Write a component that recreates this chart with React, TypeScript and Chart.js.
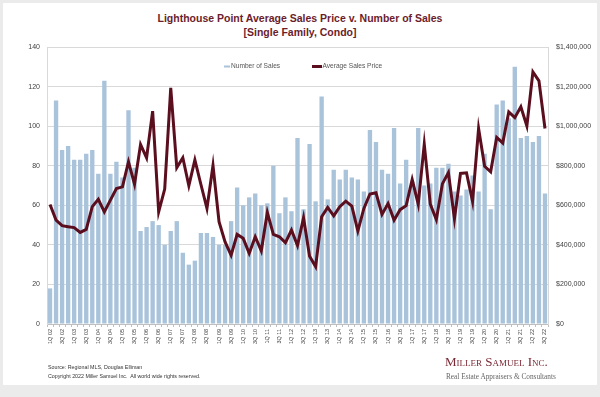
import React, { useEffect, useRef } from 'react';
import { Chart, registerables } from 'chart.js';

Chart.register(...registerables);

const titleLines = ['Lighthouse Point Average Sales Price v. Number of Sales', '[Single Family, Condo]'];
const seriesNames = ['Number of Sales', 'Average Sales Price'];
const sourceLines = ['Source: Regional MLS, Douglas Elliman', 'Copyright 2022 Miller Samuel Inc.  All world wide rights reserved.'];
const logoName = 'Miller Samuel Inc.';
const logoTagline = 'Real Estate Appraisers & Consultants';

const quarterLabels = [
  '1Q 02', '2Q 02', '3Q 02', '4Q 02', '1Q 03', '2Q 03', '3Q 03', '4Q 03',
  '1Q 04', '2Q 04', '3Q 04', '4Q 04', '1Q 05', '2Q 05', '3Q 05', '4Q 05',
  '1Q 06', '2Q 06', '3Q 06', '4Q 06', '1Q 07', '2Q 07', '3Q 07', '4Q 07',
  '1Q 08', '2Q 08', '3Q 08', '4Q 08', '1Q 09', '2Q 09', '3Q 09', '4Q 09',
  '1Q 10', '2Q 10', '3Q 10', '4Q 10', '1Q 11', '2Q 11', '3Q 11', '4Q 11',
  '1Q 12', '2Q 12', '3Q 12', '4Q 12', '1Q 13', '2Q 13', '3Q 13', '4Q 13',
  '1Q 14', '2Q 14', '3Q 14', '4Q 14', '1Q 15', '2Q 15', '3Q 15', '4Q 15',
  '1Q 16', '2Q 16', '3Q 16', '4Q 16', '1Q 17', '2Q 17', '3Q 17', '4Q 17',
  '1Q 18', '2Q 18', '3Q 18', '4Q 18', '1Q 19', '2Q 19', '3Q 19', '4Q 19',
  '1Q 20', '2Q 20', '3Q 20', '4Q 20', '1Q 21', '2Q 21', '3Q 21', '4Q 21',
  '1Q 22', '2Q 22', '3Q 22',
];

const salesCount = [
  18, 113, 88, 90, 83, 83, 86, 88, 76, 123,
  76, 82, 74, 108, 79, 47, 49, 52, 50, 40,
  47, 52, 36, 30, 32, 46, 46, 44, 40, 40,
  52, 69, 60, 64, 66, 60, 61, 80, 56, 64,
  57, 94, 58, 91, 62, 115, 63, 78, 73, 78,
  74, 73, 67, 98, 92, 78, 76, 99, 71, 83,
  72, 99, 70, 71, 79, 79, 81, 67, 65, 68,
  75, 67, 86, 58, 111, 113, 104, 130, 94, 95,
  92, 95, 66,
];

const avgPrice = [
  604000, 525000, 497000, 492000, 487000, 463000, 478000, 593000, 630000, 567000,
  626000, 685000, 693000, 820000, 707000, 907000, 840000, 1076000, 567000, 682000,
  1194000, 790000, 840000, 699000, 829000, 705000, 584000, 801000, 517000, 415000,
  348000, 453000, 433000, 357000, 441000, 370000, 564000, 453000, 441000, 411000,
  475000, 396000, 537000, 343000, 290000, 542000, 589000, 547000, 593000, 621000,
  596000, 470000, 584000, 657000, 663000, 554000, 609000, 525000, 578000, 598000,
  730000, 606000, 909000, 606000, 527000, 708000, 765000, 532000, 761000, 764000,
  620000, 988000, 797000, 769000, 943000, 915000, 1072000, 1043000, 1098000, 1001000,
  1274000, 1229000, 988000,
];

const BAR_COLOR = '#a9c3db';
const LINE_COLOR = '#5a0e1e';
const FONT = '"Liberation Sans", Arial, sans-serif';

const insideLegend = {
  id: 'insideLegend',
  afterDraw(chart: any) {
    const ctx = chart.ctx;
    const ds = chart.data.datasets;
    const y = 66.5;
    ctx.save();
    ctx.font = `6.6px ${FONT}`;
    ctx.fillStyle = '#555555';
    ctx.textBaseline = 'middle';
    ctx.textAlign = 'left';
    ctx.strokeStyle = BAR_COLOR;
    ctx.lineWidth = 2;
    ctx.beginPath();
    ctx.moveTo(224, y);
    ctx.lineTo(230, y);
    ctx.stroke();
    ctx.fillText(ds[0].label, 231, y);
    ctx.strokeStyle = LINE_COLOR;
    ctx.lineWidth = 3;
    ctx.beginPath();
    ctx.moveTo(312, y);
    ctx.lineTo(322, y);
    ctx.stroke();
    ctx.fillText(ds[1].label, 322.5, y);
    ctx.restore();
  },
};

export default function App() {
  const canvasRef = useRef<HTMLCanvasElement | null>(null);

  useEffect(() => {
    if (!canvasRef.current) return;
    Chart.defaults.font.family = FONT;
    const chart = new Chart(canvasRef.current, {
      type: 'bar',
      data: {
        labels: quarterLabels,
        datasets: [
          {
            type: 'line',
            label: seriesNames[1],
            data: avgPrice,
            yAxisID: 'y1',
            borderColor: LINE_COLOR,
            backgroundColor: LINE_COLOR,
            borderWidth: 3,
            pointRadius: 0,
            tension: 0,
            order: 1,
          } as any,
          {
            type: 'bar',
            label: seriesNames[0],
            data: salesCount,
            yAxisID: 'y',
            backgroundColor: BAR_COLOR,
            borderWidth: 0,
            categoryPercentage: 1,
            barPercentage: 0.72,
            order: 2,
          } as any,
        ].reverse(),
      },
      options: {
        animation: false,
        responsive: true,
        maintainAspectRatio: false,
        layout: { padding: { top: 47, left: 0, right: 0, bottom: 43 } },
        plugins: {
          legend: { display: false },
          title: { display: false },
          tooltip: { enabled: false },
        },
        scales: {
          x: {
            offset: true,
            grid: {
              display: true,
              drawOnChartArea: false,
              drawTicks: true,
              tickLength: 3,
              color: '#bfbfbf',
              offset: true,
            },
            border: { display: true, color: '#bfbfbf' },
            ticks: {
              autoSkip: false,
              maxRotation: 90,
              minRotation: 90,
              padding: 2,
              color: '#404040',
              font: { size: 5.5 },
              callback: (_v: any, i: number) => (i % 2 === 0 ? quarterLabels[i] : ''),
            },
            afterFit: (s: any) => { s.height = 30; },
          },
          y: {
            position: 'left',
            min: 0,
            max: 140,
            ticks: { stepSize: 20, padding: 7, color: '#404040', font: { size: 7 } },
            grid: { color: '#d9d9d9', drawTicks: false },
            border: { display: true, color: '#d9d9d9' },
            afterFit: (s: any) => { s.width = 47; },
          },
          y1: {
            position: 'right',
            min: 0,
            max: 1400000,
            ticks: {
              stepSize: 200000,
              padding: 8,
              color: '#404040',
              font: { size: 7 },
              callback: (v: any) => '$' + Number(v).toLocaleString('en-US'),
            },
            grid: { drawOnChartArea: false, drawTicks: false },
            border: { display: true, color: '#d9d9d9' },
            afterFit: (s: any) => { s.width = 52; },
          },
        },
      } as any,
      plugins: [insideLegend],
    });
    return () => chart.destroy();
  }, []);

  return (
    <div style={{ position: 'fixed', left: 0, top: 0, width: 600, height: 397, background: '#ebebeb', overflow: 'hidden' }}>
      <div style={{ position: 'absolute', left: 3, top: 3, width: 594, height: 382, background: '#ffffff' }} />
      <div
        style={{
          position: 'absolute', left: 0, top: 11, width: 600, textAlign: 'center',
          fontFamily: FONT, fontWeight: 'bold', fontSize: '10.5px', lineHeight: '14px', color: '#6b1d2c',
        }}
      >
        <div>{titleLines[0]}</div>
        <div>{titleLines[1]}</div>
      </div>
      <div style={{ position: 'absolute', left: 0, top: 0, width: 600, height: 397 }}>
        <canvas ref={canvasRef} />
      </div>
      <div style={{ position: 'absolute', left: 48, top: 363, fontFamily: FONT, fontSize: '5.3px', lineHeight: '9px', color: '#333', whiteSpace: 'pre' }}>
        <div>{sourceLines[0]}</div>
        <div>{sourceLines[1]}</div>
      </div>
      <div
        style={{
          position: 'absolute', left: 445, top: 354, fontFamily: '"Liberation Serif", "Times New Roman", serif',
          fontVariant: 'small-caps', fontSize: '13px', lineHeight: '15px', color: '#7a2a36', whiteSpace: 'nowrap',
        }}
      >
        {logoName}
      </div>
      <div
        style={{
          position: 'absolute', left: 446, top: 372, fontFamily: '"Liberation Serif", "Times New Roman", serif',
          fontSize: '7.3px', lineHeight: '9px', color: '#666', whiteSpace: 'nowrap',
        }}
      >
        {logoTagline}
      </div>
    </div>
  );
}
